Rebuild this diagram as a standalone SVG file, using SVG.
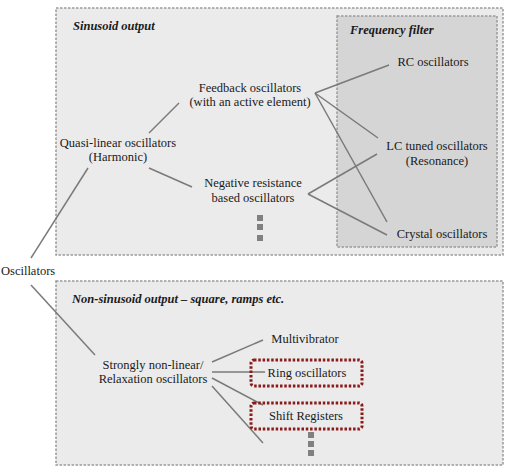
<svg xmlns="http://www.w3.org/2000/svg" width="513" height="474" viewBox="0 0 513 474">
<style>
.panel{fill:#ebebeb;stroke:#9a9a9a;stroke-width:1.5;stroke-dasharray:2.5 1.5}
.filter{fill:#d5d5d5;stroke:#9a9a9a;stroke-width:1.5;stroke-dasharray:2.5 1.5}
.hl{fill:none;stroke:#8b1a1a;stroke-width:3;stroke-dasharray:2.5 1.8}
.t{font-family:"Liberation Serif","Times New Roman",serif;font-size:12.5px;fill:#1a1a1a;text-anchor:middle}
.h{font-family:"Liberation Serif","Times New Roman",serif;font-size:12.5px;font-weight:bold;font-style:italic;fill:#1a1a1a}
.c line{stroke:#7a7a7a;stroke-width:1.5}
.dot{fill:#808080}
</style>
<g id="panel-sinusoid">
<rect class="panel" x="56" y="8" width="447" height="247"/>
<text class="h" x="73" y="30">Sinusoid output</text>
</g>
<g id="panel-filter">
<rect class="filter" x="337" y="16" width="160" height="231"/>
<text class="h" x="350" y="34">Frequency filter</text>
</g>
<g id="panel-nonsinusoid">
<rect class="panel" x="56" y="281" width="447" height="184"/>
<text class="h" x="72" y="303">Non-sinusoid output – square, ramps etc.</text>
</g>
<g class="c" id="connectors">
<line x1="31" y1="258" x2="88" y2="168"/>
<line x1="31" y1="285" x2="95" y2="355"/>
<line x1="149" y1="133" x2="179" y2="103"/>
<line x1="149" y1="168" x2="192" y2="187"/>
<line x1="315" y1="93" x2="389" y2="65"/>
<line x1="315" y1="93" x2="378" y2="138"/>
<line x1="315" y1="93" x2="387" y2="222"/>
<line x1="308" y1="194" x2="377" y2="154"/>
<line x1="308" y1="194" x2="387" y2="235"/>
<line x1="212" y1="362" x2="263" y2="340"/>
<line x1="212" y1="372" x2="265" y2="372"/>
<line x1="212" y1="378" x2="263" y2="405"/>
<line x1="212" y1="386" x2="263" y2="443"/>
</g>
<g id="n-oscillators"><text class="t" x="1" y="275" style="text-anchor:start">Oscillators</text></g>
<g id="n-quasi"><text class="t" x="118" y="147">Quasi-linear oscillators</text><text class="t" x="118" y="161">(Harmonic)</text></g>
<g id="n-feedback"><text class="t" x="250" y="92">Feedback oscillators</text><text class="t" x="250" y="106">(with an active element)</text></g>
<g id="n-negative"><text class="t" x="253" y="187">Negative resistance</text><text class="t" x="253" y="202">based oscillators</text></g>
<g id="n-sin-more"><rect class="dot" x="257" y="215" width="6" height="6"/><rect class="dot" x="257" y="224" width="6" height="6"/><rect class="dot" x="257" y="235" width="6" height="6"/></g>
<g id="n-rc"><text class="t" x="433" y="66">RC oscillators</text></g>
<g id="n-lc"><text class="t" x="437" y="150">LC tuned oscillators</text><text class="t" x="437" y="165">(Resonance)</text></g>
<g id="n-crystal"><text class="t" x="442" y="238">Crystal oscillators</text></g>
<g id="n-strongly"><text class="t" x="153" y="369">Strongly non-linear/</text><text class="t" x="153" y="383">Relaxation oscillators</text></g>
<g id="n-multivibrator"><text class="t" x="305" y="343">Multivibrator</text></g>
<g id="n-ring"><rect class="hl" x="251" y="360" width="111" height="26" rx="3"/><text class="t" x="307" y="377">Ring oscillators</text></g>
<g id="n-shift"><rect class="hl" x="251" y="403" width="111" height="26" rx="3"/><text class="t" x="306" y="420">Shift Registers</text></g>
<g id="n-nonsin-more"><rect class="dot" x="308" y="432" width="6" height="6"/><rect class="dot" x="308" y="441" width="6" height="6"/><rect class="dot" x="308" y="450" width="6" height="6"/></g>
</svg>
